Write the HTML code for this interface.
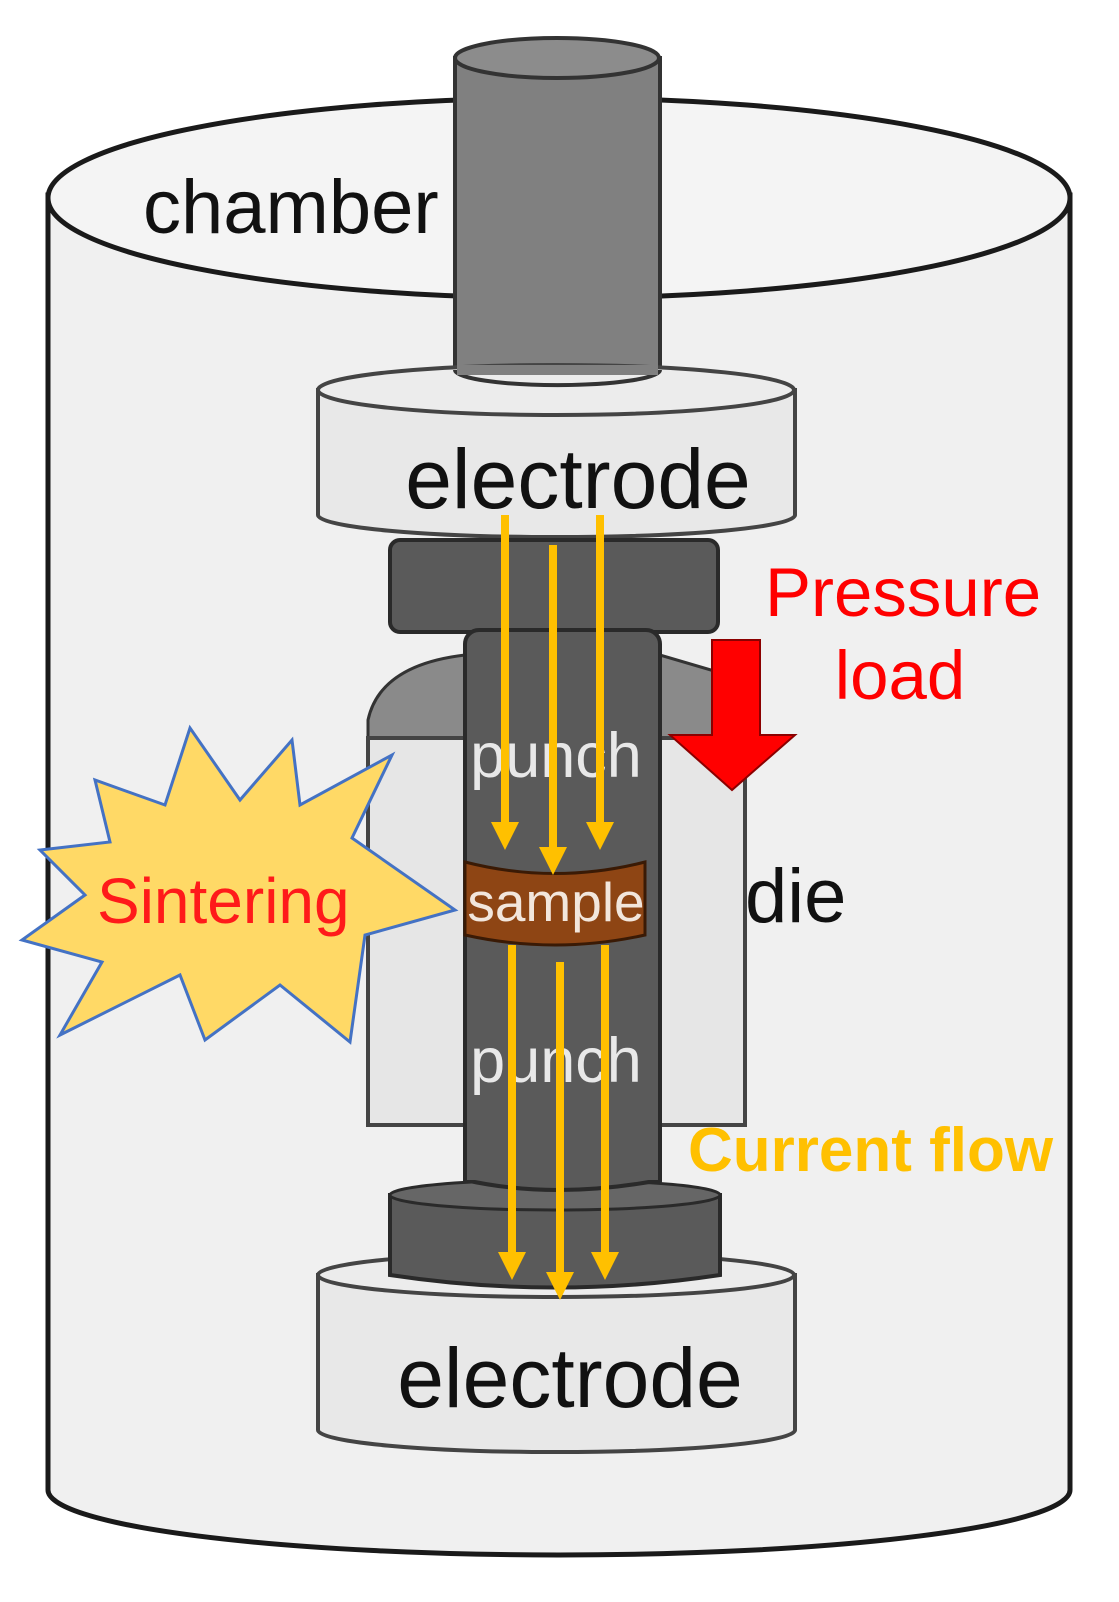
<!DOCTYPE html>
<html><head><style>html,body{margin:0;padding:0;background:#fff}svg{display:block}</style></head>
<body>
<svg width="1119" height="1602" viewBox="0 0 1119 1602" xmlns="http://www.w3.org/2000/svg" font-family="Liberation Sans, sans-serif">
<!-- chamber -->
<path d="M48,195 L48,1490 A511,65 0 0 0 1070,1490 L1070,195 Z" fill="#f0f0f0" stroke="#1a1a1a" stroke-width="5"/>
<ellipse cx="559" cy="198" rx="511" ry="100" fill="#f4f4f4" stroke="#1a1a1a" stroke-width="5"/>
<text x="143" y="233" font-size="76" fill="#111">chamber</text>
<!-- top rod -->
<path d="M455,58 L455,372 A102,15 0 0 0 660,372 L660,58 Z" fill="#808080" stroke="#333" stroke-width="4"/>
<ellipse cx="557" cy="58" rx="102" ry="20" fill="#8c8c8c" stroke="#333" stroke-width="4"/>
<!-- top electrode -->
<path d="M318,390 L318,515 A238,22 0 0 0 795,515 L795,390 Z" fill="#e8e8e8" stroke="#444" stroke-width="4"/>
<ellipse cx="556" cy="390" rx="238" ry="25" fill="#ececec" stroke="#444" stroke-width="4"/>
<path d="M455,370 A102,15 0 0 0 660,370" fill="none" stroke="#333" stroke-width="4"/>
<rect x="457" y="365" width="201" height="10" fill="#808080"/>
<text x="578" y="508" font-size="84" fill="#111" text-anchor="middle">electrode</text>
<!-- die -->
<path d="M368,720 Q380,665 465,655 L660,655 L745,680 L745,740 L368,740 Z" fill="#8a8a8a" stroke="#333" stroke-width="3"/>
<rect x="368" y="738" width="377" height="387" fill="#e6e6e6" stroke="#444" stroke-width="4"/>
<!-- top flange -->
<rect x="390" y="540" width="328" height="92" rx="10" fill="#5a5a5a" stroke="#2a2a2a" stroke-width="4"/>
<!-- punch shaft -->
<rect x="465" y="630" width="195" height="565" rx="14" fill="#5a5a5a" stroke="#2a2a2a" stroke-width="4"/>
<!-- sample -->
<path d="M465,862 Q555,885 645,862 L645,935 Q555,955 465,935 Z" fill="#8e4514" stroke="#3a1a05" stroke-width="3"/>
<text x="556" y="921" font-size="55" fill="#f2e6dc" text-anchor="middle">sample</text>
<text x="556" y="777" font-size="63" fill="#e8e8e8" text-anchor="middle">punch</text>
<text x="556" y="1082" font-size="63" fill="#e8e8e8" text-anchor="middle">punch</text>
<!-- bottom electrode -->
<path d="M318,1275 L318,1430 A238,22 0 0 0 795,1430 L795,1275 Z" fill="#e8e8e8" stroke="#444" stroke-width="4"/>
<ellipse cx="556" cy="1275" rx="238" ry="22" fill="#ececec" stroke="#444" stroke-width="4"/>
<text x="570" y="1407" font-size="84" fill="#111" text-anchor="middle">electrode</text>
<!-- bottom flange -->
<path d="M390,1195 L390,1275 Q555,1300 720,1275 L720,1195 Z" fill="#5a5a5a" stroke="#2a2a2a" stroke-width="4"/>
<ellipse cx="555" cy="1195" rx="165" ry="15" fill="#666" stroke="#2a2a2a" stroke-width="3"/>
<path d="M465,1150 L465,1180 Q555,1200 660,1180 L660,1150 Z" fill="#5a5a5a" stroke="#2a2a2a" stroke-width="4"/>
<rect x="467" y="1140" width="191" height="40" fill="#5a5a5a"/>
<!-- current arrows -->
<g stroke="#ffc000" stroke-width="8" fill="#ffc000">
<line x1="505" y1="515" x2="505" y2="825"/><line x1="553" y1="545" x2="553" y2="850"/><line x1="600" y1="515" x2="600" y2="825"/>
<line x1="512" y1="945" x2="512" y2="1255"/><line x1="560" y1="962" x2="560" y2="1275"/><line x1="605" y1="945" x2="605" y2="1255"/>
</g>
<g fill="#ffc000">
<polygon points="491,822 519,822 505,850"/><polygon points="539,847 567,847 553,875"/><polygon points="586,822 614,822 600,850"/>
<polygon points="498,1252 526,1252 512,1280"/><polygon points="546,1272 574,1272 560,1300"/><polygon points="591,1252 619,1252 605,1280"/>
</g>
<!-- pressure arrow -->
<polygon points="712,640 760,640 760,735 795,735 732,790 670,735 712,735" fill="#ff0000" stroke="#8b0000" stroke-width="2"/>
<text x="765" y="616" font-size="69" fill="#ff0000">Pressure</text>
<text x="900" y="699" font-size="69" fill="#ff0000" text-anchor="middle">load</text>
<text x="745" y="922" font-size="76" fill="#111">die</text>
<text x="688" y="1171" font-size="62" fill="#ffc000" font-weight="bold">Current flow</text>
<!-- starburst -->
<polygon points="190,728 240,800 292,740 300,805 392,755 352,838 455,910 365,935 350,1042 280,985 205,1040 180,975 60,1035 102,962 22,940 85,895 40,850 110,842 95,780 165,805" fill="#ffd966" stroke="#4472c4" stroke-width="3"/>
<text x="97" y="923" font-size="64" fill="#ff1a1a">Sintering</text>
</svg>
</body></html>
